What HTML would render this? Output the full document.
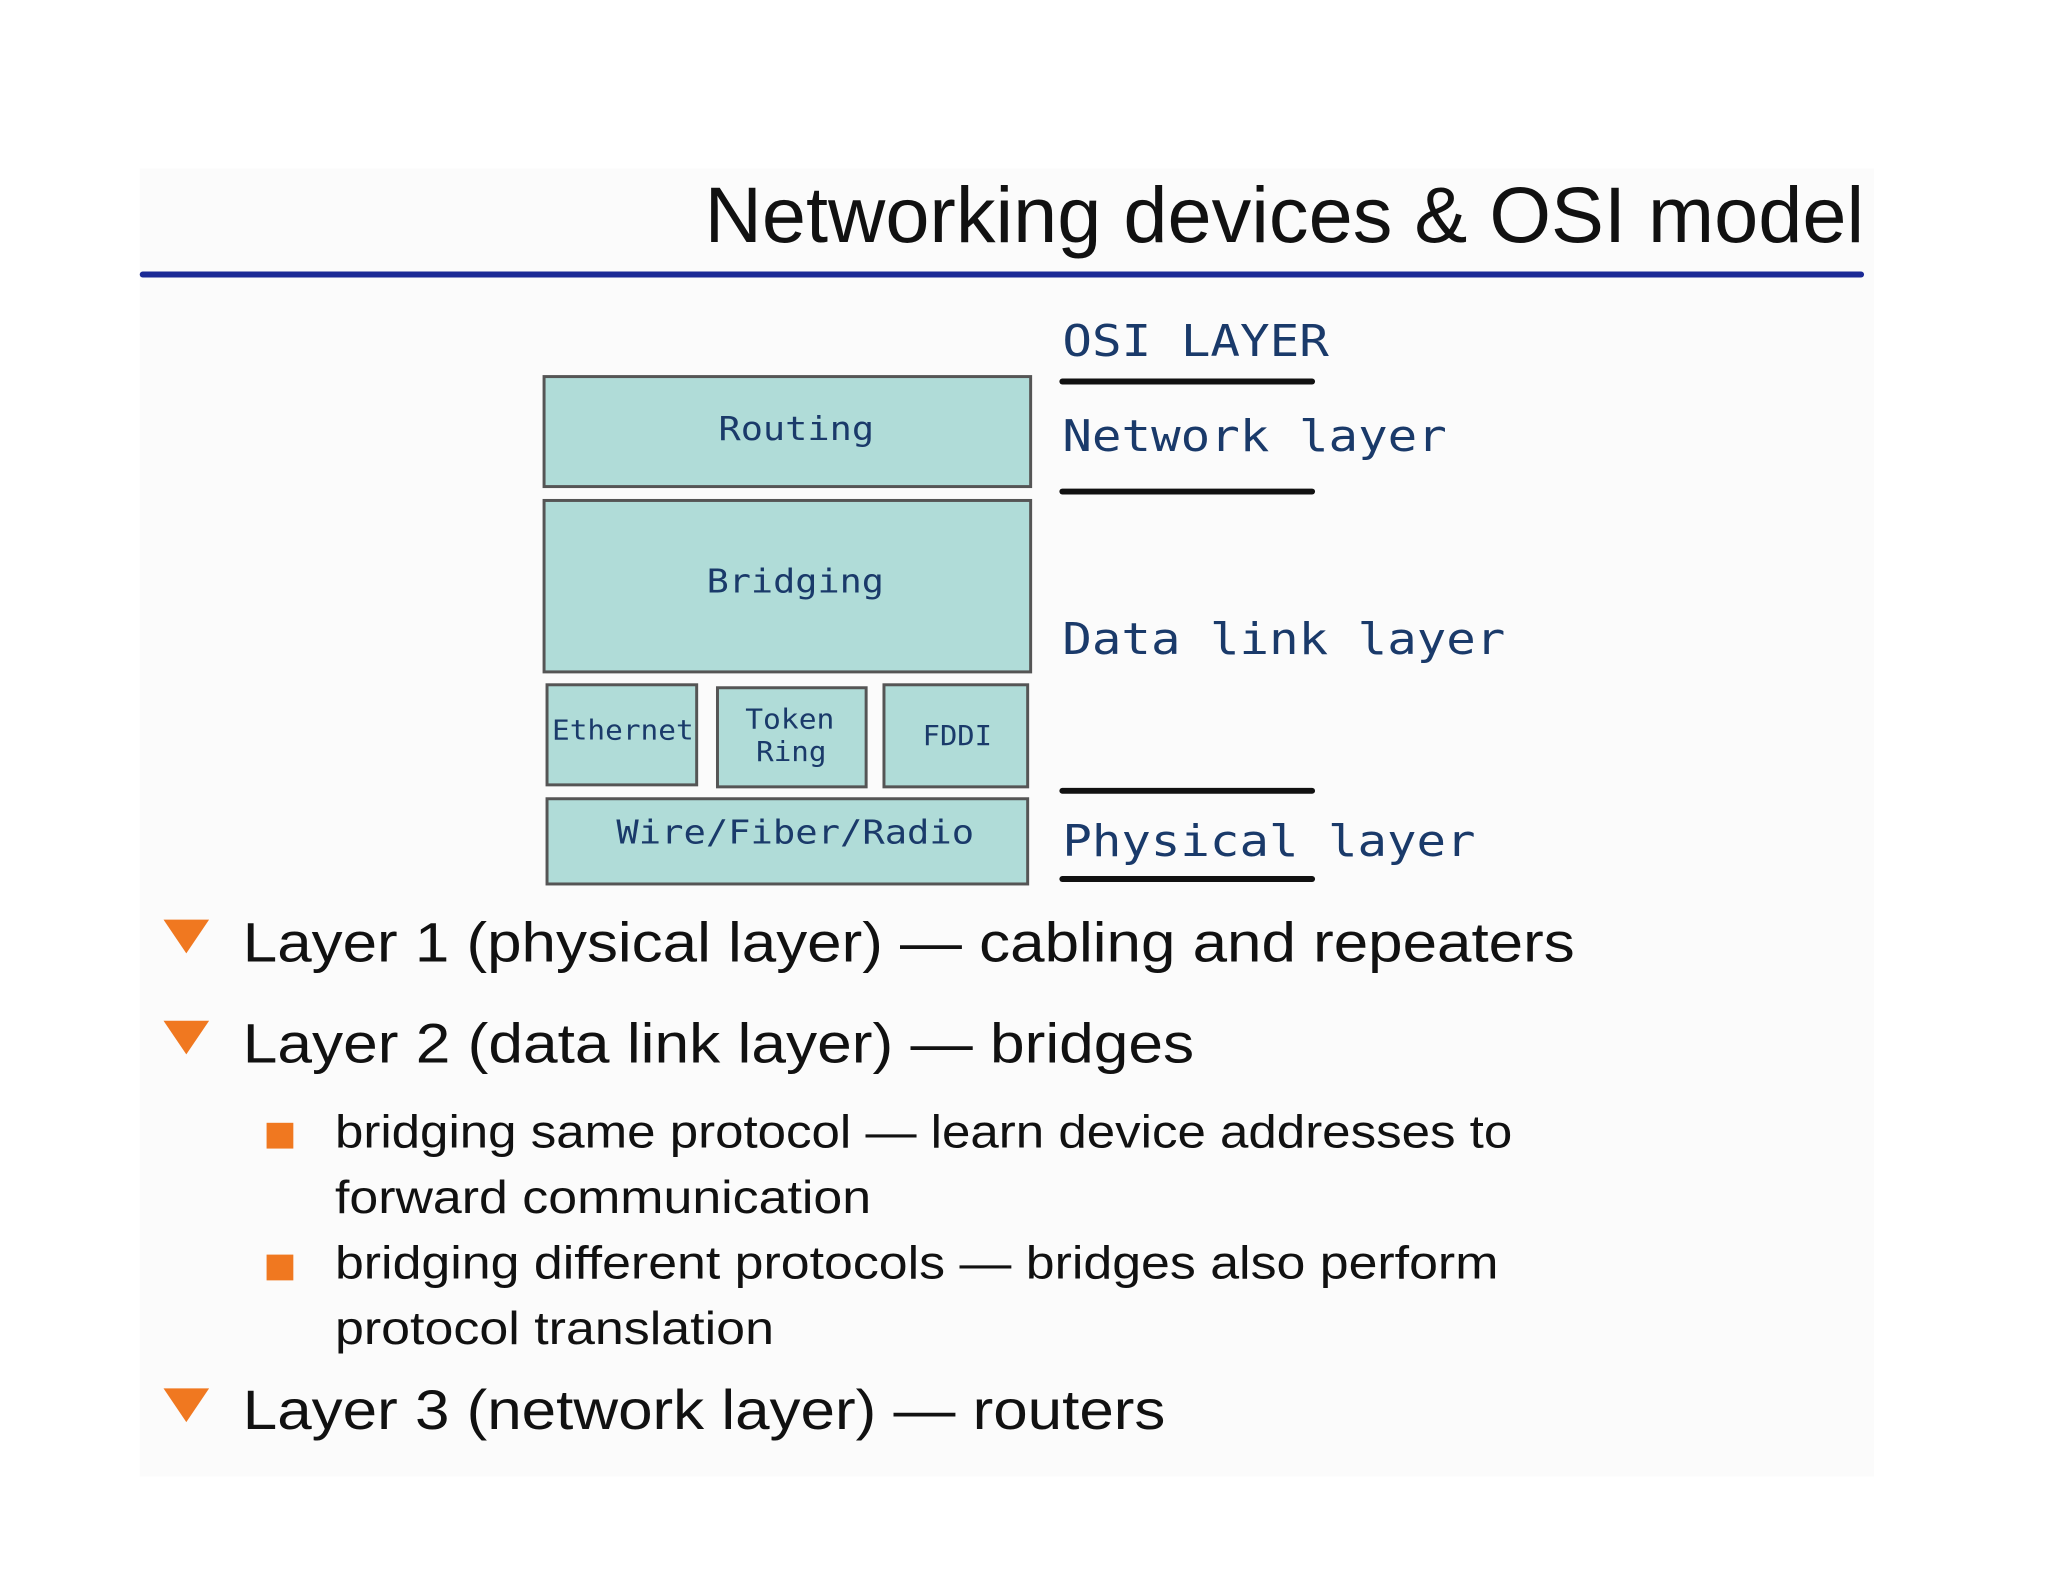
<!DOCTYPE html>
<html><head><meta charset="utf-8"><style>html,body{margin:0;padding:0;background:#fff}svg{display:block}</style></head>
<body>
<svg width="2048" height="1582" viewBox="0 0 2048 1582" xmlns="http://www.w3.org/2000/svg">
<rect x="0" y="0" width="2048" height="1582" fill="#ffffff"/>
<g transform="scale(0.991)">
<rect x="141" y="170" width="1750" height="1320" fill="#fbfbfb"/>
<g font-family="Liberation Sans, sans-serif" fill="#111">
<text x="711" y="244" font-size="80" textLength="1170" lengthAdjust="spacingAndGlyphs">Networking devices &amp; OSI model</text>
</g>
<rect x="141" y="274" width="1740" height="6" rx="3" fill="#1b2a96"/>
<g stroke="#555" stroke-width="3" fill="#b0dcd8">
<rect x="549" y="380" width="491" height="111"/>
<rect x="549" y="505" width="491" height="173"/>
<rect x="552" y="691" width="151" height="101"/>
<rect x="724" y="694" width="150" height="100"/>
<rect x="892" y="691" width="145" height="103"/>
<rect x="552" y="806" width="485" height="86"/>
</g>
<g fill="#111">
<rect x="1069" y="382" width="258" height="6" rx="3"/>
<rect x="1069" y="493" width="258" height="6" rx="3"/>
<rect x="1069" y="795" width="258" height="6" rx="3"/>
<rect x="1069" y="884" width="258" height="6" rx="3"/>
</g>
<g font-family="DejaVu Sans Mono, Liberation Mono, monospace" fill="#1a3a6a">
<text x="1072" y="359" font-size="44" textLength="269" lengthAdjust="spacingAndGlyphs">OSI LAYER</text>
<text x="1072" y="455" font-size="44" textLength="388" lengthAdjust="spacingAndGlyphs">Network layer</text>
<text x="1072" y="660" font-size="44" textLength="447" lengthAdjust="spacingAndGlyphs">Data link layer</text>
<text x="1072" y="864" font-size="44" textLength="417" lengthAdjust="spacingAndGlyphs">Physical layer</text>
<text x="725" y="444" font-size="33" textLength="157" lengthAdjust="spacingAndGlyphs">Routing</text>
<text x="713" y="598" font-size="33" textLength="179" lengthAdjust="spacingAndGlyphs">Bridging</text>
<text x="557" y="746" font-size="28" textLength="143" lengthAdjust="spacingAndGlyphs">Ethernet</text>
<text x="752" y="735" font-size="28" textLength="90" lengthAdjust="spacingAndGlyphs">Token</text>
<text x="763" y="768" font-size="28" textLength="71" lengthAdjust="spacingAndGlyphs">Ring</text>
<text x="931" y="752" font-size="28" textLength="70" lengthAdjust="spacingAndGlyphs">FDDI</text>
<text x="622" y="851" font-size="33" textLength="361" lengthAdjust="spacingAndGlyphs">Wire/Fiber/Radio</text>
</g>
<g fill="#f07820">
<polygon points="165,928 211,928 188,962"/>
<polygon points="165,1030 211,1030 188,1064"/>
<polygon points="165,1401 211,1401 188,1435"/>
<rect x="269" y="1133" width="27" height="26"/>
<rect x="269" y="1266" width="27" height="26"/>
</g>
<g font-family="Liberation Sans, sans-serif" fill="#111">
<text x="245" y="970" font-size="56" textLength="1344" lengthAdjust="spacingAndGlyphs">Layer 1 (physical layer) — cabling and repeaters</text>
<text x="245" y="1072" font-size="56" textLength="960" lengthAdjust="spacingAndGlyphs">Layer 2 (data link layer) — bridges</text>
<text x="338" y="1158" font-size="47" textLength="1188" lengthAdjust="spacingAndGlyphs">bridging same protocol — learn device addresses to</text>
<text x="338" y="1224" font-size="47" textLength="541" lengthAdjust="spacingAndGlyphs">forward communication</text>
<text x="338" y="1290" font-size="47" textLength="1174" lengthAdjust="spacingAndGlyphs">bridging different protocols — bridges also perform</text>
<text x="338" y="1356" font-size="47" textLength="443" lengthAdjust="spacingAndGlyphs">protocol translation</text>
<text x="245" y="1442" font-size="56" textLength="931" lengthAdjust="spacingAndGlyphs">Layer 3 (network layer) — routers</text>
</g>
</g>
</svg>
</body></html>
